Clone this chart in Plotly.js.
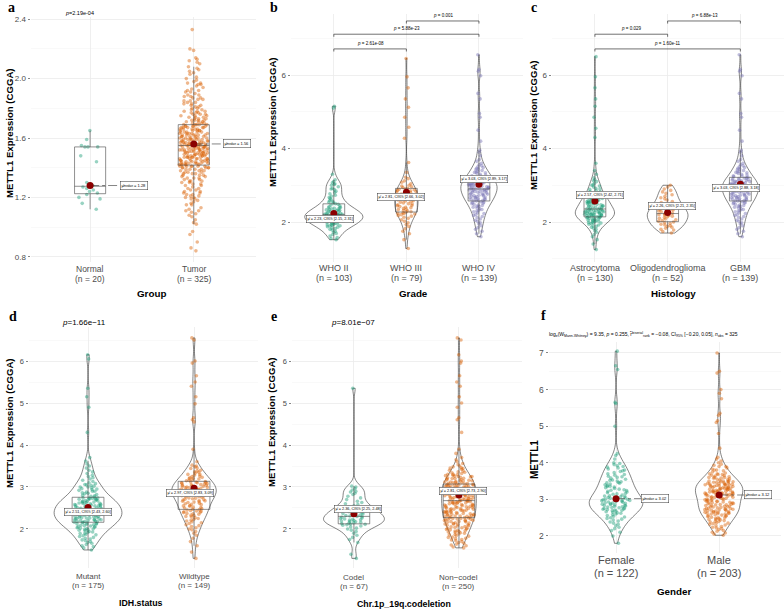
<!DOCTYPE html>
<html><head><meta charset="utf-8">
<script src="https://cdn.plot.ly/plotly-3.0.1.min.js"></script>
<style>body{margin:0;background:#fff}#chart{width:784px;height:611px}</style>
</head><body><div id="chart"></div>
<script>
// ---------------- DATA ----------------
// Panel a: Group
const groupCats = ['Normal', 'Tumor'];
const groupN = [20, 325];
const normalVals = [1.65,1.59,1.54,1.54,1.55,1.54,1.48,1.44,1.30,1.28,1.27,1.26,1.24,1.23,1.22,1.20,1.19,1.16,1.12,1.25];
const tumorVals = [0.84,0.86,0.9,0.95,0.97,
1.02,1.03,1.05,1.07,1.08,1.09,
1.1,1.11,1.11,1.12,1.13,1.15,1.15,1.16,1.17,1.18,1.19,1.19,
1.2,1.2,1.21,1.21,1.22,1.22,1.23,1.23,1.24,1.24,1.25,1.25,1.26,1.26,1.27,1.28,1.28,1.29,1.29,
1.3,1.3,1.31,1.31,1.31,1.32,1.32,1.33,1.33,1.33,1.34,1.34,1.35,1.35,1.35,1.36,1.36,1.36,1.37,1.37,1.37,1.38,1.38,1.38,1.39,1.39,1.39,1.39,
1.4,1.4,1.4,1.4,1.4,1.41,1.41,1.41,1.41,1.41,1.41,1.42,1.42,1.42,1.42,1.42,1.42,1.43,1.43,1.43,1.43,1.43,1.43,1.43,1.44,1.44,1.44,1.44,1.44,1.44,1.45,1.45,1.45,1.45,1.45,1.45,1.46,1.46,1.46,1.46,1.46,1.46,1.47,1.47,1.47,1.47,1.47,1.47,1.48,1.48,1.48,1.48,1.48,1.48,1.49,1.49,1.49,1.49,1.49,1.49,
1.5,1.5,1.5,1.5,1.5,1.5,1.51,1.51,1.51,1.51,1.51,1.51,1.52,1.52,1.52,1.52,1.52,1.52,1.52,1.53,1.53,1.53,1.53,1.53,1.53,1.54,1.54,1.54,1.54,1.54,1.54,1.55,1.55,1.55,1.55,1.55,1.55,1.55,1.56,1.56,1.56,1.56,1.56,1.56,1.56,1.57,1.57,1.57,1.57,1.57,1.57,1.58,1.58,1.58,1.58,1.58,1.58,1.59,1.59,1.59,1.59,1.59,1.59,
1.6,1.6,1.6,1.6,1.6,1.6,1.61,1.61,1.61,1.61,1.61,1.62,1.62,1.62,1.62,1.62,1.62,1.63,1.63,1.63,1.63,1.63,1.64,1.64,1.64,1.64,1.64,1.65,1.65,1.65,1.65,1.65,1.66,1.66,1.66,1.66,1.66,1.67,1.67,1.67,1.67,1.67,1.68,1.68,1.68,1.68,1.68,1.69,1.69,1.69,1.69,1.69,
1.7,1.7,1.7,1.71,1.71,1.71,1.72,1.72,1.72,1.72,1.73,1.73,1.73,1.74,1.74,1.74,1.75,1.75,1.75,1.76,1.76,1.76,1.77,1.77,1.77,1.78,1.78,1.78,1.79,1.79,
1.8,1.8,1.81,1.81,1.82,1.82,1.83,1.83,1.84,1.84,1.85,1.85,1.86,1.86,1.87,1.87,1.88,1.88,1.89,1.89,
1.9,1.91,1.91,1.92,1.92,1.93,1.94,1.95,1.96,1.96,1.97,1.97,1.98,1.99,
2.0,2.01,2.03,2.04,2.05,2.06,2.07,2.08,2.1,
2.11,2.12,2.13,2.14,2.19,2.2,
2.33];
const groupMedians = [1.28, 1.56];

// Panel b: Grade
const gradeCats = ['WHO II', 'WHO III', 'WHO IV'];
const gradeN = [103, 79, 139];
const who2Vals = [1.52,1.55,1.58,1.62,1.66,1.69,1.72,1.75,1.78,1.8,1.82,1.84,1.86,1.87,1.89,1.9,1.91,1.92,1.93,1.94,1.95,1.96,1.97,1.98,1.99,2.0,2.01,2.02,2.03,2.04,2.05,2.05,2.06,2.07,2.08,2.08,2.09,2.1,2.11,2.11,2.12,2.13,2.14,2.15,2.15,2.16,2.17,2.18,2.18,2.19,2.19,2.2,2.21,2.22,2.23,2.24,2.25,2.26,2.27,2.28,2.29,2.21,2.3,2.31,2.32,2.33,2.35,2.36,2.37,2.38,2.39,2.34,2.4,2.42,2.44,2.46,2.48,2.5,2.52,2.54,2.56,2.58,2.61,2.64,2.67,2.7,2.73,2.77,2.8,2.84,2.88,2.92,2.96,3.0,3.04,3.07,3.1,3.15,2.9,3.02,3.3,5.1,5.15];
const who3Vals = [1.28,1.52,1.68,1.75,1.82,1.88,1.93,1.98,2.02,2.06,2.1,2.13,2.16,2.18,2.2,2.22,2.23,2.24,2.25,2.27,
2.28,2.3,2.32,2.34,2.35,2.37,2.39,2.4,2.42,2.44,2.45,2.47,2.49,2.5,2.52,2.54,2.55,2.57,2.58,2.6,
2.61,2.63,2.64,2.66,2.68,2.7,2.71,2.73,2.75,2.76,2.78,2.8,2.82,2.83,2.85,2.86,2.88,2.89,2.9,
2.92,2.94,2.96,2.98,3.0,3.04,3.08,3.12,3.18,3.22,3.35,3.62,4.28,4.58,4.85,5.12,5.35,5.65,5.95,6.45];
const who4Vals = [1.6,1.68,1.75,1.8,1.85,1.9,1.95,1.98,2.02,2.05,2.08,2.12,2.15,2.18,2.2,2.23,2.25,2.28,2.3,2.32,2.34,2.36,2.38,2.4,2.42,2.43,2.45,2.46,2.48,2.5,2.51,2.53,2.54,2.55,2.57,
2.58,2.59,2.6,2.61,2.62,2.63,2.64,2.65,2.66,2.67,2.68,2.69,2.7,2.71,2.72,2.73,2.74,2.75,2.76,2.77,2.78,2.79,2.8,2.81,2.82,2.83,2.84,2.85,2.86,2.86,2.87,2.88,2.88,2.89,2.9,
2.91,2.92,2.93,2.94,2.95,2.96,2.97,2.98,2.99,3.0,3.01,3.02,3.03,3.04,3.05,3.06,3.07,3.08,3.09,3.1,3.11,3.12,3.13,3.14,3.15,3.16,3.17,3.18,3.19,3.2,2.95,3.0,3.05,3.1,
3.22,3.24,3.26,3.28,3.3,3.32,3.34,3.36,3.38,3.4,3.42,3.44,3.46,3.48,3.5,3.53,3.56,3.6,3.65,3.7,3.8,3.9,3.95,4.2,4.5,4.85,4.95,5.35,5.5,5.98,6.1,6.15,6.55,3.25,3.35];
const gradeMeans = [2.23, 2.81, 3.03];
const gradeCI = [[2.15, 2.31], [2.66, 3.02], [2.89, 3.17]];
const gradeCompA = [0, 0, 1];
const gradeCompB = [1, 2, 2];
const gradeCompY = [6.71, 7.11, 7.47];
const gradeCompP = ['2.61e-08', '5.88e-23', '0.001'];

// Panel c: Histology
const histCats = ['Astrocytoma', 'Oligodendroglioma', 'GBM'];
const histN = [130, 52, 139];
const astroVals = [1.25,1.4,1.52,1.6,1.66,1.72,1.76,1.8,1.83,1.86,1.88,1.9,1.92,1.94,1.96,1.97,1.98,1.99,2.0,2.01,2.02,2.03,2.04,2.05,2.06,2.07,2.08,2.09,2.1,2.11,2.12,2.13,
2.14,2.14,2.15,2.16,2.16,2.17,2.18,2.18,2.19,2.2,2.2,2.21,2.22,2.22,2.23,2.24,2.24,2.25,2.26,2.26,2.27,2.28,2.28,2.29,2.3,2.3,2.31,2.32,2.32,2.33,2.34,2.34,2.35,
2.36,2.37,2.38,2.39,2.4,2.41,2.42,2.43,2.44,2.45,2.46,2.47,2.48,2.49,2.5,2.51,2.52,2.53,2.54,2.55,2.56,2.57,2.58,2.59,2.6,2.61,2.62,2.63,2.64,2.65,2.66,2.67,2.68,
2.7,2.72,2.74,2.76,2.78,2.8,2.83,2.86,2.89,2.92,2.95,2.98,3.01,3.05,3.1,3.15,3.2,3.3,3.4,3.6,4.3,4.55,4.85,5.15,5.35,5.65,5.95,6.5,2.9,3.0,3.12,2.82];
const oligoVals = [1.7,1.74,1.78,1.8,1.83,1.86,1.88,1.9,1.92,1.94,1.96,1.98,2.0,2.02,2.04,2.06,2.08,2.1,2.12,2.14,2.16,2.18,2.19,2.2,2.21,2.22,2.24,2.26,2.28,2.3,2.32,2.34,2.36,2.38,2.4,2.42,2.45,2.48,2.5,2.53,2.56,2.6,2.63,2.66,2.7,2.74,2.78,2.82,2.86,2.9,2.95,3.0];
const gbmVals = who4Vals; // GBM = WHO IV samples
const histMeans = [2.57, 2.26, 3.03];
const histCI = [[2.42, 2.71], [2.21, 2.35], [2.88, 3.18]];
const histCompA = [0, 1, 0];
const histCompB = [1, 2, 2];
const histCompY = [7.11, 7.47, 6.71];
const histCompP = ['0.029', '6.88e-13', '1.60e-11'];

// Panel d: IDH.status
const idhCats = ['Mutant', 'Wildtype'];
const idhN = [175, 149];
const mutantVals = [1.5,1.55,1.58,1.6,1.63,1.66,1.68,1.7,1.72,1.74,1.76,1.78,1.8,1.82,1.84,1.86,1.87,1.89,1.9,1.92,1.93,1.94,1.96,1.97,1.98,1.99,2.0,2.01,2.02,2.03,2.04,2.05,2.06,2.07,2.08,2.09,2.1,2.11,2.12,2.12,2.13,2.14,2.15,
2.16,2.16,2.17,2.18,2.18,2.19,2.2,2.2,2.21,2.22,2.22,2.23,2.24,2.24,2.25,2.26,2.26,2.27,2.28,2.28,2.29,2.3,2.3,2.31,2.32,2.32,2.33,2.34,2.34,2.35,2.36,2.36,2.37,2.38,2.38,2.39,2.4,2.4,2.41,2.41,2.42,2.42,2.43,2.43,
2.44,2.45,2.45,2.46,2.47,2.48,2.49,2.5,2.5,2.51,2.52,2.53,2.54,2.55,2.55,2.56,2.57,2.58,2.59,2.6,2.6,2.61,2.62,2.63,2.64,2.65,2.65,2.66,2.67,2.68,2.69,2.7,2.7,2.71,2.72,2.72,2.73,2.73,2.74,2.74,2.62,2.57,2.52,2.47,
2.76,2.78,2.8,2.82,2.84,2.86,2.88,2.9,2.92,2.94,2.96,2.98,3.0,3.02,3.04,3.06,3.08,3.1,3.13,3.16,3.19,3.22,3.25,3.28,3.32,3.36,3.4,3.45,3.5,3.55,3.62,3.7,4.3,4.9,5.15,5.35,6.05,6.15,2.85,2.95,3.05,2.79,2.9,3.0];
const wildVals = [1.3,1.45,1.6,1.7,1.78,1.85,1.9,1.94,1.98,2.0,2.03,2.06,2.08,2.1,2.13,2.15,2.17,2.19,2.21,2.23,2.25,2.27,2.29,2.3,2.32,2.33,2.35,2.36,2.37,2.39,2.4,2.41,2.42,2.43,2.44,2.45,2.46,
2.47,2.48,2.5,2.51,2.52,2.54,2.55,2.56,2.58,2.59,2.6,2.61,2.63,2.64,2.65,2.66,2.67,2.68,2.69,2.7,2.71,2.72,2.73,2.74,2.75,2.76,2.77,2.78,2.79,2.8,2.8,2.81,2.82,2.83,2.83,2.84,2.85,
2.86,2.86,2.87,2.88,2.88,2.89,2.9,2.9,2.91,2.92,2.92,2.93,2.94,2.95,2.96,2.97,2.98,2.98,2.99,3.0,3.0,3.01,3.02,3.03,3.04,3.05,3.06,3.07,3.08,3.09,3.1,3.1,3.11,3.12,3.12,3.13,2.95,3.04,
3.15,3.17,3.19,3.21,3.23,3.25,3.28,3.3,3.33,3.36,3.4,3.44,3.48,3.52,3.6,3.9,4.55,4.6,4.65,4.98,5.15,5.4,5.5,5.65,5.95,6.0,6.5,6.55,3.2,3.26,3.35,3.45,3.16,3.22,3.3,3.38,3.5];
const idhMeans = [2.51, 2.97];
const idhCI = [[2.43, 2.60], [2.83, 3.09]];
const idhP = '1.66e\u221211';

// Panel e: Chr.1p_19q.codeletion
const codelCats = ['Codel', 'Non\u2212codel'];
const codelN = [67, 250];
const codelVals = [1.3,1.4,1.68,1.75,1.8,1.85,1.9,1.94,1.97,2.0,2.02,2.05,2.07,2.09,2.1,2.11,
2.12,2.13,2.14,2.15,2.16,2.17,2.18,2.19,2.2,2.21,2.22,2.23,2.24,2.25,2.26,2.28,2.29,
2.3,2.31,2.32,2.33,2.35,2.36,2.37,2.38,2.4,2.41,2.43,2.44,2.46,2.47,2.49,2.5,2.52,
2.55,2.58,2.6,2.63,2.66,2.7,2.74,2.78,2.82,2.85,2.88,2.9,2.93,2.96,3.0,3.02,5.35];
const noncodelVals = [1.55,1.57,1.6,1.62,1.64,1.66,1.68,1.7,1.72,1.74,1.75,1.77,1.78,1.8,1.81,1.83,1.84,1.86,1.87,1.88,1.9,1.91,1.92,1.93,1.94,1.95,1.96,1.97,1.98,1.99,2.0,2.01,2.02,2.03,2.04,2.05,2.06,2.07,2.08,2.09,2.1,2.11,2.12,2.12,2.13,2.14,2.15,2.16,2.17,2.18,2.18,2.19,2.2,2.21,2.21,2.22,2.23,2.23,2.24,2.25,2.25,2.26,
2.27,2.27,2.28,2.29,2.29,2.3,2.31,2.31,2.32,2.33,2.33,2.34,2.35,2.35,2.36,2.37,2.37,2.38,2.39,2.39,2.4,2.41,2.41,2.42,2.43,2.43,2.44,2.45,2.45,2.46,2.47,2.47,2.48,2.49,2.49,2.5,2.51,2.51,2.52,2.53,2.53,2.54,2.55,2.55,2.56,2.57,2.57,2.58,2.59,2.59,2.6,2.61,2.61,2.62,2.63,2.63,2.64,2.65,2.65,2.66,2.66,2.67,2.67,
2.68,2.68,2.69,2.7,2.7,2.71,2.72,2.72,2.73,2.74,2.74,2.75,2.76,2.76,2.77,2.78,2.78,2.79,2.8,2.8,2.81,2.82,2.82,2.83,2.84,2.84,2.85,2.86,2.86,2.87,2.88,2.88,2.89,2.9,2.9,2.91,2.92,2.92,2.93,2.94,2.94,2.95,2.96,2.96,2.97,2.98,2.98,2.99,3.0,3.0,3.01,3.02,3.02,3.03,3.04,3.04,3.05,3.06,3.06,3.07,3.07,3.05,3.01,
3.08,3.09,3.1,3.11,3.12,3.13,3.14,3.15,3.16,3.17,3.18,3.19,3.2,3.21,3.22,3.23,3.24,3.25,3.26,3.27,3.28,3.29,3.3,3.32,3.34,3.36,3.38,3.4,3.42,3.44,3.46,3.48,3.5,3.53,3.56,3.6,3.65,3.7,3.8,3.9,4.3,4.6,4.65,4.9,5.0,5.15,5.4,5.5,5.65,5.95,6.0,6.15,6.5,6.55,3.1,3.15,3.2,3.25,3.3,3.35,3.45,3.12];
const codelMeans = [2.36, 2.81];
const codelCI = [[2.25, 2.48], [2.73, 2.9]];
const codelP = '8.01e\u221207';

// Panel f: Gender
const genderCats = ['Female', 'Male'];
const genderN = [122, 203];
const femaleVals = [1.8,2.0,2.1,2.15,2.2,2.24,2.28,2.32,2.35,2.38,2.41,2.44,2.46,2.48,2.5,2.52,2.54,2.56,2.58,2.6,2.62,2.63,2.65,2.66,2.68,
2.69,2.7,2.71,2.72,2.73,2.74,2.75,2.76,2.77,2.78,2.79,2.8,2.81,2.82,2.83,2.84,2.85,2.86,2.87,2.88,2.89,2.9,2.91,2.92,2.93,2.94,2.95,2.96,2.97,2.98,2.99,3.0,3.0,3.01,3.02,
3.03,3.05,3.07,3.09,3.1,3.12,3.14,3.16,3.18,3.2,3.22,3.24,3.26,3.28,3.3,3.32,3.34,3.36,3.38,3.4,3.42,3.44,3.46,3.48,3.5,3.52,3.55,3.58,3.6,3.63,3.66,3.7,3.73,3.76,3.8,3.83,3.86,3.9,3.95,4.0,4.1,4.2,4.25,5.0,5.62,5.65,6.55,6.65,7.05,
3.04,3.08,3.15,3.25,3.35,3.45,3.53,3.62,3.68,3.78,3.88,3.92,3.98];
const maleVals = [2.02,2.05,2.08,2.1,2.13,2.15,2.18,2.2,2.22,2.24,2.26,2.28,2.3,2.32,2.34,2.36,2.38,2.4,2.42,2.44,2.45,2.47,2.48,2.5,2.51,2.53,2.54,2.56,2.57,2.58,
2.6,2.61,2.62,2.63,2.64,2.65,2.66,2.67,2.68,2.69,2.7,2.71,2.72,2.73,2.74,2.75,2.76,2.77,2.78,2.79,2.8,2.81,2.82,2.83,2.84,2.85,2.86,2.87,2.88,2.89,2.9,2.91,2.92,2.93,2.94,2.95,2.96,2.97,2.98,2.99,3.0,3.01,3.02,3.03,3.04,3.05,3.06,3.07,3.08,3.09,3.1,3.11,3.12,
2.55,2.6,2.65,2.7,2.75,2.8,2.85,2.9,2.95,3.0,3.05,3.1,2.4,2.5,2.35,2.45,2.62,2.72,
3.13,3.14,3.15,3.16,3.17,3.18,3.19,3.2,3.21,3.22,3.23,3.24,3.25,3.26,3.27,3.28,3.29,3.3,3.31,3.32,3.33,3.34,3.35,3.36,3.37,3.38,3.39,3.4,3.41,3.42,3.43,3.44,3.45,3.46,3.47,3.48,3.49,3.5,
3.52,3.54,3.56,3.58,3.6,3.62,3.64,3.66,3.68,3.7,3.72,3.75,3.78,3.8,3.83,3.86,3.9,3.93,3.96,4.0,
4.05,4.1,4.15,4.4,4.8,5.1,5.15,5.3,5.35,5.75,5.9,6.0,6.45,6.5,7.0,
3.15,3.2,3.25,3.3,3.35,3.4,3.45,3.5,3.55,3.6,3.65,3.2,3.3,3.4,3.5,3.6,3.7,3.8,3.9,3.18,3.28,3.38,3.48,3.58,3.68,3.22,3.32,3.42,3.14];
const genderMedians = [3.02, 3.12];
const genderStats = {logW: '9.35', p: '0.255', r: '\u22120.08', ciLo: '\u22120.20', ciHi: '0.05', nObs: 325};
const groupP = '2.19e-04';

// ---------------- STYLE / LAYOUT ----------------
const W = 784, H = 611;
const FONT = 'Liberation Sans, Arial, sans-serif';
const COLORS = ['#1B9E77', '#D95F02', '#7570B3'];
const GRID = '#EBEBEB', GRID_MINOR = '#F5F5F5';
const fx = p => p / W;
const fy = p => 1 - p / H;

function bwNrd0(v) {
  const s = [...v].sort((a, b) => a - b), n = s.length;
  const m = s.reduce((a, b) => a + b, 0) / n;
  const sd = Math.sqrt(s.reduce((a, b) => a + (b - m) * (b - m), 0) / (n - 1));
  const q = p => { const h = (n - 1) * p, lo = Math.floor(h); return s[lo] + (h - lo) * (s[Math.min(lo + 1, n - 1)] - s[lo]); };
  const iqr = q(0.75) - q(0.25);
  return 0.9 * Math.min(sd, iqr / 1.34) * Math.pow(n, -0.2);
}

const panels = [
  {k: '', letter: 'a', cats: groupCats, ns: groupN, vals: [normalVals, tumorVals], center: groupMedians,
   xd: [31, 256], xr: [-0.57, 1.6], yd: [17, 262], yr: [0.765, 2.415], yt: [0.8, 1.2, 1.6, 2.0, 2.4], ytt: ['0.8', '1.2', '1.6', '2.0', '2.4'], ym: [1.0, 1.4, 1.8, 2.2],
   violin: false, box: true, xfs: 8.5, yfs: 8, catY: [269, 279], xtitle: 'Group', xtPos: [151, 293], ytitle: 'METTL1 Expression (CGGA)', ytPos: [9, 133], letterPos: [6, 8]},
  {k: '2', letter: 'b', cats: gradeCats, ns: gradeN, vals: [who2Vals, who3Vals, who4Vals], center: gradeMeans,
   xd: [291, 522.5], xr: [-0.59, 2.6], yd: [14, 262], yr: [0.912, 7.66], yt: [2, 4, 6], ytt: ['2', '4', '6'], ym: [1, 3, 5, 7],
   violin: true, vw: [0.8, 0.32, 0.5], box: true, xfs: 9, yfs: 8, catY: [267.5, 277.5], xtitle: 'Grade', xtPos: [414, 293], ytitle: 'METTL1 Expression (CGGA)', ytPos: [272, 122], letterPos: [268, 8]},
  {k: '3', letter: 'c', cats: histCats, ns: histN, vals: [astroVals, oligoVals, gbmVals], center: histMeans,
   xd: [552, 784], xr: [-0.59, 2.6], yd: [14, 262], yr: [0.912, 7.66], yt: [2, 4, 6], ytt: ['2', '4', '6'], ym: [1, 3, 5, 7],
   violin: true, vw: [0.54, 0.56, 0.5], box: true, xfs: 9, yfs: 8, catY: [267.5, 277.5], xtitle: 'Histology', xtPos: [673, 293], ytitle: 'METTL1 Expression (CGGA)', ytPos: [533, 125], letterPos: [529, 8]},
  {k: '4', letter: 'd', cats: idhCats, ns: idhN, vals: [mutantVals, wildVals], center: idhMeans,
   xd: [29, 257.6], xr: [-0.557, 1.6], yd: [327, 568], yr: [1.071, 6.81], yt: [2, 3, 4, 5, 6], ytt: ['2', '3', '4', '5', '6'], ym: [1.5, 2.5, 3.5, 4.5, 5.5, 6.5],
   violin: true, vw: [0.64, 0.42], box: true, xfs: 8, yfs: 7.5, catY: [576, 585.5], xtitle: 'IDH.status', xtPos: [141, 603], ytitle: 'METTL1 Expression (CGGA)', ytPos: [9, 423], letterPos: [7, 316]},
  {k: '5', letter: 'e', cats: codelCats, ns: codelN, vals: [codelVals, noncodelVals], center: codelMeans,
   xd: [292, 522], xr: [-0.59, 1.6], yd: [327, 568], yr: [1.071, 6.81], yt: [2, 3, 4, 5, 6], ytt: ['2', '3', '4', '5', '6'], ym: [1.5, 2.5, 3.5, 4.5, 5.5, 6.5],
   violin: true, vw: [0.58, 0.33], box: true, xfs: 8, yfs: 7.5, catY: [577, 586.5], xtitle: 'Chr.1p_19q.codeletion', xtPos: [404, 604], ytitle: 'METTL1 Expression (CGGA)', ytPos: [271, 422], letterPos: [269, 316]},
  {k: '6', letter: 'f', cats: genderCats, ns: genderN, vals: [femaleVals, maleVals], center: genderMedians,
   xd: [549, 781], xr: [-0.65, 1.6], yd: [342, 553], yr: [1.535, 7.30], yt: [2, 3, 4, 5, 6, 7], ytt: ['2', '3', '4', '5', '6', '7'], ym: [2.5, 3.5, 4.5, 5.5, 6.5],
   violin: true, vw: [0.52, 0.46], box: false, xfs: 11, yfs: 8.5, catY: [560, 573], xtitle: 'Gender', xtPos: [674, 591], ytitle: 'METTL1', ytPos: [534, 460], letterPos: [539, 315]}
];

// label offsets (px) for mean labels in panels b-e
const labelShift = {
  '2': [[-4, -5], [-5, -5], [5, 5]],
  '3': [[5, 6], [4, 6], [-4.5, -4.3]],
  '4': [[0, -4.7], [-4, -4.4]],
  '5': [[4.5, 4.7], [4, 4.3]]
};
const ciSets = {'2': gradeCI, '3': histCI, '4': idhCI, '5': codelCI};

const traces = [];
const layout = {
  width: W, height: H, margin: {l: 0, r: 0, t: 0, b: 0},
  paper_bgcolor: '#fff', plot_bgcolor: '#fff', showlegend: false,
  boxmode: 'overlay', violinmode: 'overlay',
  annotations: [], shapes: [], font: {family: FONT}
};

panels.forEach(P => {
  const xa = 'x' + P.k, ya = 'y' + P.k;
  layout['xaxis' + P.k] = {
    domain: [fx(P.xd[0]), fx(P.xd[1])], anchor: ya, range: P.xr,
    tickmode: 'array', tickvals: P.cats.map((c, i) => i), showticklabels: false,
    showgrid: true, gridcolor: GRID, gridwidth: 0.8, zeroline: false, showline: false,
    ticks: '', fixedrange: true
  };
  layout['yaxis' + P.k] = {
    domain: [fy(P.yd[1]), fy(P.yd[0])], anchor: xa, range: P.yr,
    tickmode: 'array', tickvals: P.yt, ticktext: P.ytt,
    showgrid: true, gridcolor: GRID, gridwidth: 0.8, zeroline: false, showline: false,
    ticks: 'outside', ticklen: 2.5, tickwidth: 0.6, tickcolor: '#333',
    tickfont: {family: FONT, size: P.yfs, color: '#4D4D4D'}, fixedrange: true,
    minor: {tickmode: 'array', tickvals: P.ym, showgrid: true, gridcolor: GRID_MINOR, gridwidth: 0.6, ticks: ''}
  };

  // category labels (two lines)
  P.cats.forEach((c, i) => {
    layout.annotations.push({xref: xa, yref: 'paper', x: i, y: fy(P.catY[0]), xanchor: 'center', yanchor: 'middle', showarrow: false,
      text: c, font: {family: FONT, size: P.xfs, color: '#4D4D4D'}});
    layout.annotations.push({xref: xa, yref: 'paper', x: i, y: fy(P.catY[1]), xanchor: 'center', yanchor: 'middle', showarrow: false,
      text: '(n = ' + P.ns[i] + ')', font: {family: FONT, size: P.xfs, color: '#4D4D4D'}});
  });

  P.vals.forEach((v, i) => {
    if (P.violin) {
      traces.push({type: 'violin', x0: i, y: v, xaxis: xa, yaxis: ya, width: P.vw[i], scalemode: 'width',
        points: false, spanmode: 'hard', bandwidth: bwNrd0(v),
        line: {color: '#333', width: 0.6}, fillcolor: 'rgba(255,255,255,0)',
        box: {visible: false}, meanline: {visible: false}, hoverinfo: 'skip'});
    }
    traces.push({type: 'box', x0: i, y: v, xaxis: xa, yaxis: ya, width: 0.3,
      boxpoints: 'all', jitter: 0.95, pointpos: 0,
      marker: {color: COLORS[i], size: 3.6, opacity: 0.45},
      line: {color: 'rgba(0,0,0,0)', width: 0}, fillcolor: 'rgba(0,0,0,0)', whiskerwidth: 0, hoverinfo: 'skip'});
    if (P.box) {
      traces.push({type: 'box', x0: i, y: v, xaxis: xa, yaxis: ya, width: 0.3,
        boxpoints: 'outliers', marker: {opacity: 0, size: 1},
        line: {color: '#444', width: 0.6}, fillcolor: 'rgba(255,255,255,0)', whiskerwidth: 0, hoverinfo: 'skip'});
    }
    const c = P.center[i];
    if (!P.violin || !P.box) {
      // median label with dash-dot leader (panels a and f)
      const off = P.k === '' ? 0.285 : 0.245;
      traces.push({type: 'scatter', mode: 'lines', x: [i, i + off], y: [c, c], xaxis: xa, yaxis: ya,
        line: {color: '#333', width: 0.6, dash: 'dashdot'}, hoverinfo: 'skip'});
      layout.annotations.push({xref: xa, yref: ya, x: i + off, y: c, xanchor: 'left', yanchor: 'middle', showarrow: false,
        text: '\u03BC\u0302<sub>median</sub> = ' + c.toFixed(2), font: {family: FONT, size: 4, color: '#000'},
        bgcolor: '#fff', bordercolor: '#333', borderwidth: 0.5, borderpad: 1});
    } else {
      const ci = ciSets[P.k][i], sh = labelShift[P.k][i];
      layout.annotations.push({xref: xa, yref: ya, x: i, y: c, xshift: sh[0], yshift: sh[1], xanchor: 'center', yanchor: 'middle', showarrow: false,
        text: '\u03BC\u0302 = ' + c.toFixed(2) + ', CI<sub>95%</sub> [' + ci[0].toFixed(2) + ', ' + ci[1].toFixed(2) + ']',
        font: {family: FONT, size: 3.8, color: '#000'}, bgcolor: '#fff', bordercolor: '#333', borderwidth: 0.5, borderpad: 1});
    }
    traces.push({type: 'scatter', mode: 'markers', x: [i], y: [c], xaxis: xa, yaxis: ya,
      marker: {color: '#8B0000', size: 7}, hoverinfo: 'skip'});
  });

  // axis titles + panel letter
  layout.annotations.push({xref: 'paper', yref: 'paper', x: fx(P.xtPos[0]), y: fy(P.xtPos[1]), showarrow: false,
    text: '<b>' + P.xtitle + '</b>', font: {family: FONT, size: P.k === '4' || P.k === '5' ? 8.8 : 9.8, color: '#000'}, xanchor: 'center', yanchor: 'middle'});
  layout.annotations.push({xref: 'paper', yref: 'paper', x: fx(P.ytPos[0]), y: fy(P.ytPos[1]), showarrow: false, textangle: -90,
    text: '<b>' + P.ytitle + '</b>', font: {family: FONT, size: P.k === '6' ? 10 : 9.6, color: '#000'}, xanchor: 'center', yanchor: 'middle'});
  layout.annotations.push({xref: 'paper', yref: 'paper', x: fx(P.letterPos[0]), y: fy(P.letterPos[1]), showarrow: false,
    text: '<b>' + P.letter + '</b>', font: {family: 'Liberation Serif, DejaVu Serif, serif', size: 14, color: '#000'}, xanchor: 'left', yanchor: 'middle'});
});

// comparison brackets (panels b, c)
function brackets(k, A, B, Y, Ptxt) {
  const xa = 'x' + k, ya = 'y' + k;
  A.forEach((a, j) => {
    const b = B[j], y = Y[j], t = 0.07;
    layout.shapes.push({type: 'path', xref: xa, yref: ya,
      path: `M ${a} ${y - t} L ${a} ${y} L ${b} ${y} L ${b} ${y - t}`, line: {color: '#333', width: 0.7}});
    layout.annotations.push({xref: xa, yref: ya, x: (a + b) / 2, y: y, yshift: 1, xanchor: 'center', yanchor: 'bottom', showarrow: false,
      text: '<i>p</i> = ' + Ptxt[j], font: {family: FONT, size: 4.5, color: '#000'}});
  });
}
brackets('2', gradeCompA, gradeCompB, gradeCompY, gradeCompP);
brackets('3', histCompA, histCompB, histCompY, histCompP);

// p-value subtitles
layout.annotations.push({xref: 'paper', yref: 'paper', x: fx(79), y: fy(13), xanchor: 'center', yanchor: 'middle', showarrow: false,
  text: '<i>p</i>=' + groupP, font: {family: FONT, size: 5.5, color: '#000'}});
layout.annotations.push({xref: 'paper', yref: 'paper', x: fx(84), y: fy(322), xanchor: 'center', yanchor: 'middle', showarrow: false,
  text: '<i>p</i>=' + idhP, font: {family: FONT, size: 8, color: '#000'}});
layout.annotations.push({xref: 'paper', yref: 'paper', x: fx(353), y: fy(322), xanchor: 'center', yanchor: 'middle', showarrow: false,
  text: '<i>p</i>=' + codelP, font: {family: FONT, size: 8, color: '#000'}});
layout.annotations.push({xref: 'paper', yref: 'paper', x: fx(643), y: fy(334), xanchor: 'center', yanchor: 'middle', showarrow: false,
  text: 'log<sub>e</sub>(W<sub>Mann-Whitney</sub>) = ' + genderStats.logW + ', <i>p</i> = ' + genderStats.p +
        ', r\u0302<sup>biserial</sup><sub>rank</sub> = ' + genderStats.r + ', CI<sub>95%</sub> [' + genderStats.ciLo + ', ' + genderStats.ciHi +
        '], <i>n</i><sub>obs</sub> = ' + genderStats.nObs,
  font: {family: FONT, size: 5, color: '#000'}});

Plotly.newPlot('chart', traces, layout, {staticPlot: true, displayModeBar: false});
</script>
</body></html>
